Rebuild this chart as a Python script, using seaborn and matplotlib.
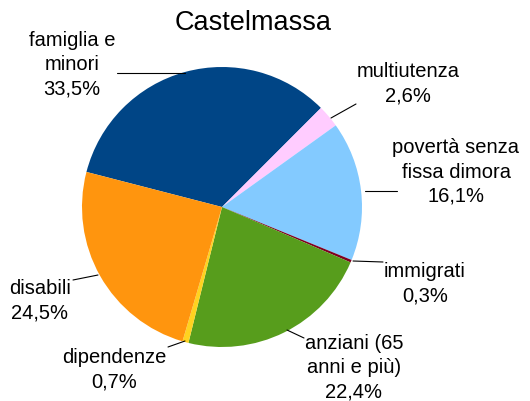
import matplotlib
matplotlib.use("Agg")
import matplotlib.pyplot as plt
import seaborn as sns

# Castelmassa - distribution by target group
categories = ["famiglia e\nminori", "multiutenza", "povertà senza\nfissa dimora", "immigrati",
              "anziani (65\nanni e più)", "dipendenze", "disabili"]
shares = [33.5, 2.6, 16.1, 0.3, 22.4, 0.7, 24.5]
colors = ["#004586", "#ffccff", "#83caff", "#7e0021", "#579d1c", "#ffd320", "#ff950e"]

sns.set_theme(style="white")
plt.rcParams['font.family'] = ['Liberation Sans', 'DejaVu Sans']

fig = plt.figure(figsize=(5.30, 4.01), dpi=100)
# pie centre at (222, 207) px, radius ~140 px
cx, cy, r = 222, 207, 140
ax = fig.add_axes([(cx - r) / 530, (401 - cy - r) / 401, 2 * r / 530, 2 * r / 401])
ax.pie(shares, colors=colors, startangle=165.5, counterclock=False,
       radius=1, wedgeprops=dict(linewidth=0))
ax.set_xlim(-1, 1)
ax.set_ylim(-1, 1)
ax.set_aspect("equal")
ax.axis("off")


def px(x, y):
    return (x - cx) / r, (cy - y) / r


# label centre (px) and leader line (px)
label_pos = [(72, 65), (408, 84), (456, 172), (425, 284), (354, 368), (114, 370), (40, 301)]
leaders = [((117, 73), (185, 73)), ((356, 104), (331, 118)), ((397, 191), (365, 191)),
           ((383, 262), (353, 261)), ((304, 338), (287, 330)), ((168, 347), (185, 341)),
           ((73, 280), (98, 275))]

for name, val, pos, (p0, p1) in zip(categories, shares, label_pos, leaders):
    txt = f"{name}\n{val:.1f}%".replace(".", ",")
    x, y = px(*pos)
    ax.text(x, y, txt, ha="center", va="center", fontsize=14.5, color="#000000",
            linespacing=1.36, clip_on=False)
    (x0, y0), (x1, y1) = px(*p0), px(*p1)
    ax.plot([x0, x1], [y0, y1], color="#000000", lw=0.8, clip_on=False)

fig.text(253 / 530, 1 - 23 / 401, "Castelmassa", ha="center", va="center",
         fontsize=19.5, color="#000000")

fig.savefig("out.png", dpi=100)
